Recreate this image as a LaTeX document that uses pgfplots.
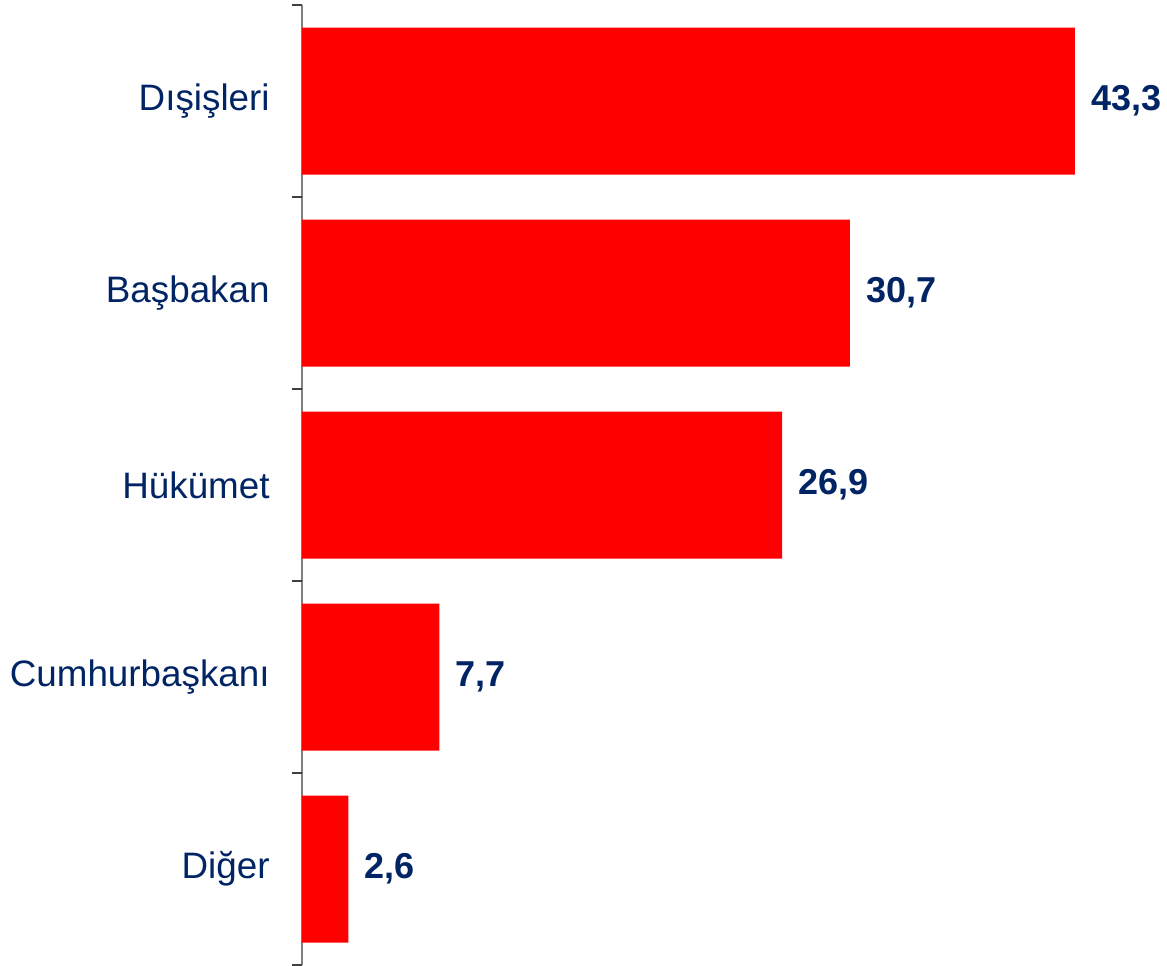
\documentclass[border=0pt]{standalone}
\usepackage{pgfplots}
\pgfplotsset{compat=1.18}
\usepackage{fontspec}
\setmainfont{Liberation Sans}
\definecolor{navy}{RGB}{0,36,100}
\definecolor{barred}{RGB}{255,0,0}
\begin{document}
\begin{tikzpicture}
\begin{axis}[
  at={(0,0)}, anchor=south west,
  scale only axis, width=432.5pt, height=480pt,
  xbar, bar width=73.5pt,
  xmin=0, xmax=48.46,
  ymin=-0.5, ymax=4.5, y dir=reverse,
  ytick={0,1,2,3,4},
  yticklabels={Dışişleri, Başbakan, Hükümet, Cumhurbaşkanı, Diğer},
  major tick length=0pt,
  extra y ticks={-0.5,0.5,1.5,2.5,3.5,4.5},
  extra y tick labels={},
  extra y tick style={major tick length=5pt, tick align=outside, tick style={draw=black!75, line width=0.6pt}},
  axis x line=none,
  axis y line*=left,
  y axis line style={draw=gray, line width=1pt, -},
  yticklabel style={font=\fontsize{18.4}{22}\selectfont, text=navy, anchor=east, inner sep=0pt, xshift=-16pt},
  point meta=x,
  /pgf/number format/assume math mode=true,
  nodes near coords={\pgfmathprintnumber[fixed, fixed zerofill, precision=1, use comma]{\pgfplotspointmeta}},
  nodes near coords style={font=\bfseries\fontsize{18}{22}\selectfont, text=navy, anchor=west, inner sep=0pt, xshift=8pt},
  clip=false,
]
\addplot[draw=none, fill=barred] coordinates {(43.3,0) (30.7,1) (26.9,2) (7.7,3) (2.6,4)};
\end{axis}
\pgfresetboundingbox
\path (-151pt,0) rectangle (432.5pt,482.5pt);
\end{tikzpicture}
\end{document}
